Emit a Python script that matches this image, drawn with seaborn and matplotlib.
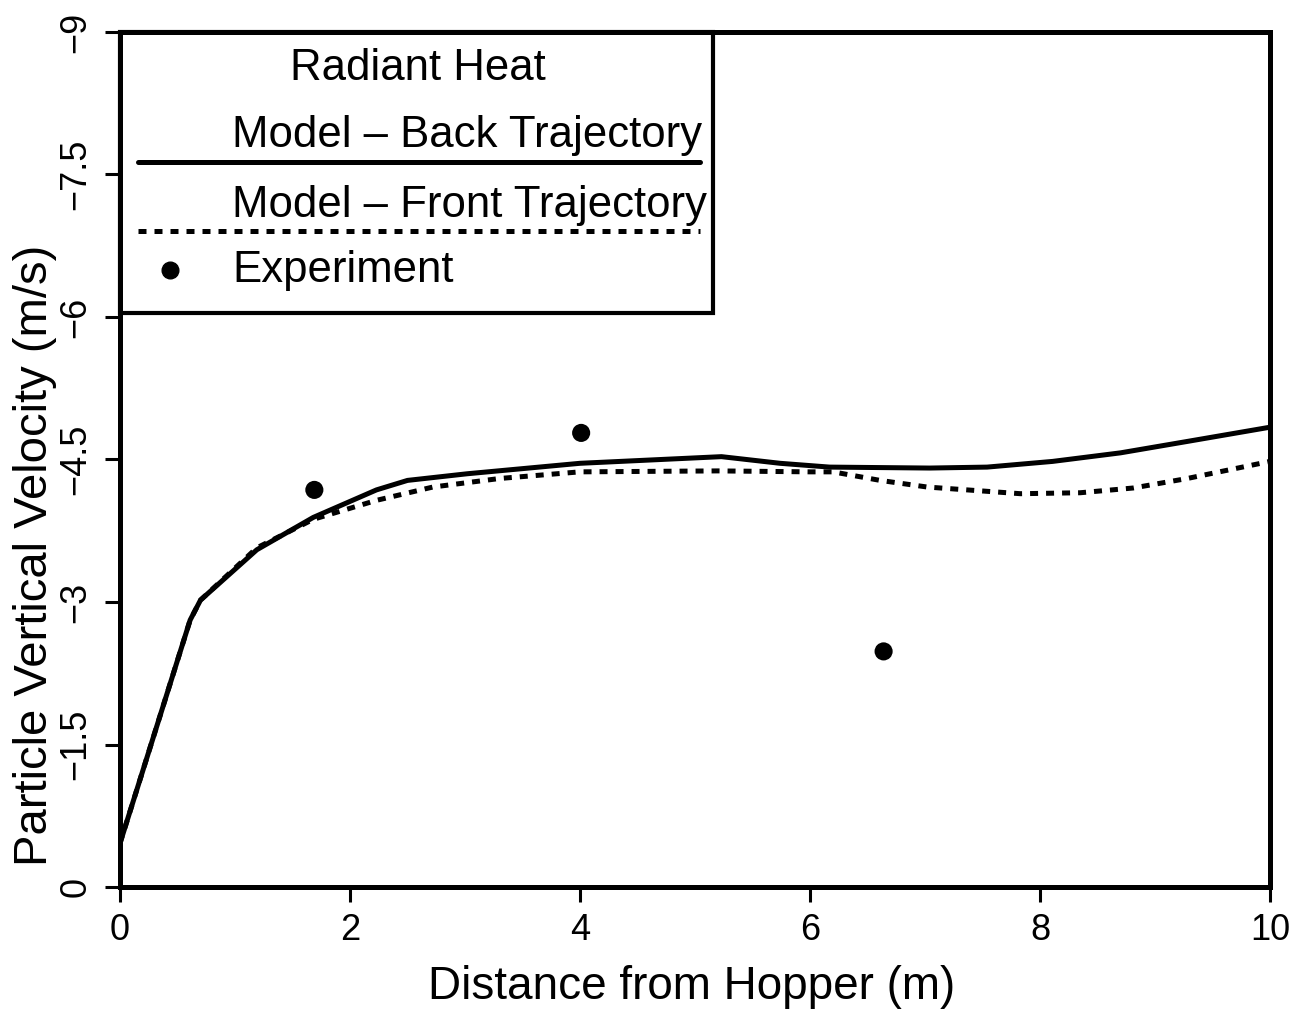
import numpy as np
import pandas as pd
import matplotlib
matplotlib.use("Agg")
import matplotlib.pyplot as plt
import seaborn as sns
from matplotlib.patches import Rectangle
from matplotlib.lines import Line2D

# ---- data ----
back_x = [0.0, 0.61, 0.70, 1.19, 1.68, 2.23, 2.50, 3.02, 4.00, 5.23, 5.74, 6.17, 7.04, 7.54, 8.11, 8.70, 9.28, 10.0]
back_v = [-0.46, -2.81, -3.02, -3.55, -3.89, -4.18, -4.28, -4.35, -4.46, -4.53, -4.46, -4.42, -4.41, -4.42, -4.48, -4.57, -4.69, -4.84]

front_x = [0.0, 0.61, 0.70, 1.19, 1.68, 2.23, 2.72, 3.30, 4.00, 5.20, 6.00, 6.20, 6.61, 7.02, 7.83, 8.35, 8.81, 9.28, 10.0]
front_v = [-0.46, -2.81, -3.02, -3.57, -3.87, -4.07, -4.21, -4.30, -4.37, -4.38, -4.37, -4.37, -4.28, -4.21, -4.14, -4.15, -4.20, -4.30, -4.48]

exp_x = [1.69, 4.01, 6.64]
exp_v = [-4.18, -4.78, -2.48]

x_ticks = [0, 2, 4, 6, 8, 10]
y_ticks = [0, -1.5, -3, -4.5, -6, -7.5, -9]
y_tick_labels = ["0", "\u22121.5", "\u22123", "\u22124.5", "\u22126", "\u22127.5", "\u22129"]

legend_title = "Radiant Heat"
label_back = "Model \u2013 Back Trajectory"
label_front = "Model \u2013 Front Trajectory"
label_exp = "Experiment"

# ---- style ----
sns.set_theme(style="white")
plt.rcParams["font.family"] = ["Liberation Sans", "DejaVu Sans"]
plt.rcParams["axes.unicode_minus"] = True

fig = plt.figure(figsize=(13.03, 10.22), dpi=100)
ax = fig.add_axes([120 / 1303, 1 - 887 / 1022, 1150 / 1303, 855 / 1022])

back_df = pd.DataFrame({"x": back_x, "v": back_v})
front_df = pd.DataFrame({"x": front_x, "v": front_v})
exp_df = pd.DataFrame({"x": exp_x, "v": exp_v})

dots = (0, (1.6, 1.6))
sns.lineplot(data=back_df, x="x", y="v", ax=ax, color="black", lw=3.6,
             sort=False, estimator=None)
sns.lineplot(data=front_df, x="x", y="v", ax=ax, color="black", lw=3.6,
             sort=False, estimator=None, linestyle=dots)
sns.scatterplot(data=exp_df, x="x", y="v", ax=ax, color="black", s=170,
                edgecolor="none", zorder=5)

ax.set_xlim(0, 10)
ax.set_ylim(0, -9)
ax.set_xticks(x_ticks)
ax.set_xticklabels([str(t) for t in x_ticks])
ax.set_yticks(y_ticks)
ax.set_yticklabels(y_tick_labels, rotation=90, va="center")

for s in ax.spines.values():
    s.set_linewidth(3.6)
    s.set_color("black")
ax.tick_params(axis="both", which="major", bottom=True, left=True, top=False, right=False,
               direction="out", length=11, width=2.2, colors="black",
               labelsize=26, pad=8)

ax.set_xlabel("Distance from Hopper (m)", fontsize=33, color="black")
ax.set_ylabel("Particle Vertical Velocity (m/s)", fontsize=34, color="black")
ax.xaxis.label.set_va("center")
ax.yaxis.label.set_va("center")
ax.xaxis.set_label_coords(0.497, -0.117)
ax.yaxis.set_label_coords(-0.074, 0.388)

# ---- custom legend box (layout as in the reference) ----
def ax_x(px):
    return (px - 120) / 1150.0

def ax_y(py):
    return (887 - py) / 855.0

ax.add_patch(Rectangle((ax_x(120), ax_y(313)), ax_x(713) - ax_x(120), 1.0 - ax_y(313),
                       transform=ax.transAxes, fill=False, lw=3.0, ec="black", zorder=6,
                       clip_on=False))
fs_leg = 31.5
ax.text(ax_x(418), ax_y(68), legend_title, transform=ax.transAxes, fontsize=fs_leg,
        ha="center", va="center", color="black")
ax.text(ax_x(232), ax_y(136), label_back, transform=ax.transAxes, fontsize=fs_leg,
        ha="left", va="center", color="black")
ax.add_line(Line2D([ax_x(138), ax_x(700)], [ax_y(162), ax_y(162)], transform=ax.transAxes,
                   color="black", lw=3.6))
ax.text(ax_x(232), ax_y(205), label_front, transform=ax.transAxes, fontsize=fs_leg,
        ha="left", va="center", color="black")
ax.add_line(Line2D([ax_x(138), ax_x(700)], [ax_y(231), ax_y(231)], transform=ax.transAxes,
                   color="black", lw=3.6, linestyle=dots))
ax.plot([ax_x(170)], [ax_y(270)], marker="o", ms=12, color="black", transform=ax.transAxes)
ax.text(ax_x(232), ax_y(270), label_exp, transform=ax.transAxes, fontsize=fs_leg,
        ha="left", va="center", color="black")

fig.savefig("out.png", dpi=100, facecolor="white")
